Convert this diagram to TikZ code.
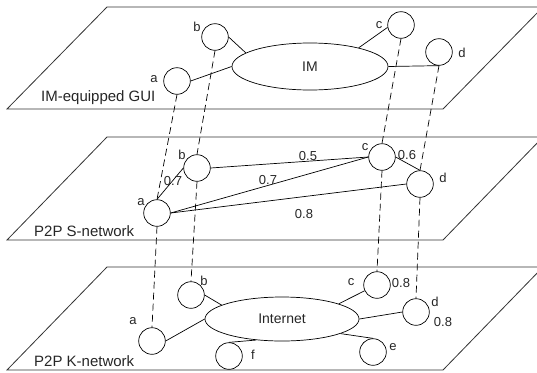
\documentclass[tikz,border=0pt]{standalone}
\usepackage{fontspec}
\setmainfont{Liberation Sans}
\usetikzlibrary{shapes.geometric}
\begin{document}
\begin{tikzpicture}[x=1pt,y=-1pt,
  nd/.style={draw, circle, minimum size=26.6pt, inner sep=0pt, line width=0.7pt},
  cloud/.style={draw, ellipse, inner sep=0pt, line width=0.7pt, text=black!85, font=\fontsize{14}{16}\selectfont},
  lbl/.style={inner sep=0pt, text=black!85, font=\fontsize{13}{15}\selectfont},
  plbl/.style={inner sep=0pt, anchor=west, text=black!85, font=\fontsize{15}{17}\selectfont},
  plane/.style={draw, line width=0.8pt, black!80},
  link/.style={line width=0.7pt},
  vdash/.style={line width=0.7pt, dash pattern=on 7pt off 4pt}]
\useasboundingbox (0,0) rectangle (537,372);
\clip (0,0) rectangle (537,372);
% planes
\draw[plane] (7,109) -- (107,7) -- (543,7) -- (443,109) -- cycle;
\draw[plane] (7,240) -- (107,137) -- (543,137) -- (443,240) -- cycle;
\draw[plane] (7,370) -- (107,267) -- (543,267) -- (443,370) -- cycle;
\node[plbl] (gui) at (41,98) {IM-equipped GUI};
\node[plbl] (snet) at (34,231) {P2P S-network};
\node[plbl] (knet) at (34,361) {P2P K-network};
% top layer
\node[cloud, minimum width=156pt, minimum height=47pt] (IM) at (310,66.5) {IM};
\node[nd] (ta) at (177,81) {};
\node[nd] (tb) at (215,37) {};
\node[nd] (tc) at (401,25) {};
\node[nd] (td) at (439,52) {};
\node[lbl] (lta) at (154,79) {a};
\node[lbl] (ltb) at (197,27) {b};
\node[lbl] (ltc) at (379,25) {c};
\node[lbl] (ltd) at (462,53) {d};
\draw[link] (ta.east) -- (IM.west);
\draw[link] (tb.east) -- (IM.168);
\draw[link] (tc.190) -- (IM.21);
\draw[link] (IM.east) -- (td.south);
% middle layer
\node[nd] (ma) at (157,213) {};
\node[nd] (mb) at (197,168) {};
\node[nd] (mc) at (382,157) {};
\node[nd] (md) at (420,184) {};
\node[lbl] (lma) at (141,202) {a};
\node[lbl] (lmb) at (182,155) {b};
\node[lbl] (lmc) at (365,147) {c};
\node[lbl] (lmd) at (443,178) {d};
\draw[link] (ma.north) -- (mb.west);
\draw[link] (mb.east) -- (mc.west);
\draw[link] (ma.east) -- (mc.west);
\draw[link] (ma.east) -- (md.west);
\draw[link] (mc.east) -- (md.north);
\node[lbl] (w1) at (173,181) {0.7};
\node[lbl] (w2) at (268,180) {0.7};
\node[lbl] (w3) at (308,156) {0.5};
\node[lbl] (w4) at (407,155) {0.6};
\node[lbl] (w5) at (304,214) {0.8};
% bottom layer
\node[cloud, minimum width=154pt, minimum height=44pt] (NET) at (282,319) {Internet};
\node[nd] (ba) at (152,341) {};
\node[nd] (bb) at (191,295) {};
\node[nd] (bc) at (377,285) {};
\node[nd] (bd) at (416,312) {};
\node[nd] (be) at (373,352) {};
\node[nd] (bf) at (229,356) {};
\node[lbl] (lba) at (133,321) {a};
\node[lbl] (lbb) at (204,281) {b};
\node[lbl] (lbc) at (351,282) {c};
\node[lbl] (lbd) at (435,302) {d};
\node[lbl] (lbe) at (393,347) {e};
\node[lbl] (lbf) at (253,355) {f};
\node[lbl] (v1) at (401,283) {0.8};
\node[lbl] (v2) at (443,322) {0.8};
\draw[link] (ba.east) -- (NET.west);
\draw[link] (bb.east) -- (NET.167);
\draw[link] (bc.205) -- (NET.15);
\draw[link] (bd.west) -- (NET.east);
\draw[link] (NET.346) -- (be.north);
\draw[link] (bf.north) -- (NET.219);
% vertical dashed correspondences
\draw[vdash] (ta.south) -- (ma.north);
\draw[vdash] (tb.south) -- (mb.north);
\draw[vdash] (tc.south) -- (mc.north);
\draw[vdash] (td.south) -- (md.north);
\draw[vdash] (ma.south) -- (ba.north);
\draw[vdash] (mb.south) -- (bb.north);
\draw[vdash] (mc.south) -- (bc.north);
\draw[vdash] (md.south) -- (bd.north);
\end{tikzpicture}
\end{document}
